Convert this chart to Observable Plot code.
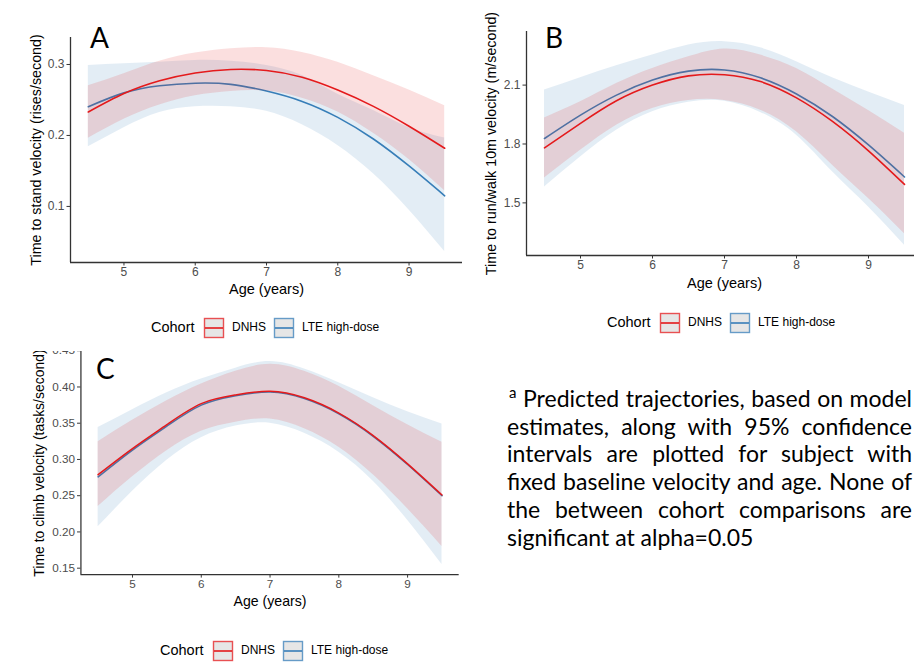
<!DOCTYPE html>
<html><head><meta charset="utf-8">
<script src="https://cdn.jsdelivr.net/npm/d3@7"></script>
<script src="https://cdn.jsdelivr.net/npm/@observablehq/plot@0.6"></script>
<style>
html,body{margin:0;padding:0;background:#fff;}
#page{position:relative;width:914px;height:663px;overflow:hidden;background:#fff;font-family:"Liberation Sans",Arial,sans-serif;}
.abs{position:absolute;}
.plabel{position:absolute;font-family:Lato,"Open Sans",sans-serif;font-size:28px;color:#000;line-height:1;}
.legtxt{position:absolute;font-family:"Liberation Sans",Arial,sans-serif;color:#000;white-space:nowrap;line-height:1;}
#note{position:absolute;left:507px;top:385px;width:405px;font-family:Lato,"Open Sans",sans-serif;font-size:23px;line-height:27.7px;color:#000;}
#note div{text-align:justify;text-align-last:justify;white-space:normal;}
#note div.last{text-align:left;text-align-last:left;}
#note sup{font-size:15px;line-height:0;vertical-align:0;position:relative;top:-9px;}
</style></head><body><div id="page"></div>
<script>
// ---- data ----
const ages = [4.5, 5, 5.5, 6, 6.5, 7, 7.5, 8, 8.5, 9, 9.5];
const cohorts = ["DNHS", "LTE high-dose"];
const xTicks = [5, 6, 7, 8, 9];

// Panel A: Time to stand velocity (rises/second)
const aDnhsFit = [0.233, 0.259, 0.277, 0.288, 0.293, 0.2915, 0.282, 0.264, 0.241, 0.213, 0.182];
const aDnhsLo  = [0.196, 0.223, 0.243, 0.256, 0.262, 0.2625, 0.2525, 0.233, 0.203, 0.166, 0.122];
const aDnhsHi  = [0.270, 0.287, 0.3045, 0.316, 0.322, 0.3236, 0.317, 0.303, 0.284, 0.264, 0.242];
const aLteFit  = [0.2405, 0.260, 0.270, 0.2736, 0.272, 0.2625, 0.248, 0.2255, 0.195, 0.157, 0.115];
const aLteLo   = [0.184, 0.211, 0.2325, 0.2406, 0.2406, 0.234, 0.215, 0.186, 0.146, 0.095, 0.0365];
const aLteHi   = [0.2986, 0.301, 0.3033, 0.3057, 0.3047, 0.2986, 0.2844, 0.258, 0.235, 0.211, 0.1965];
const aTicks = [0.1, 0.2, 0.3];

// Panel B: Time to run/walk 10m velocity (m/second)
const bDnhsFit = [1.78, 1.905, 2.02, 2.10, 2.147, 2.153, 2.118, 2.035, 1.915, 1.765, 1.594];
const bDnhsLo  = [1.627, 1.768, 1.896, 1.981, 2.022, 2.022, 1.9725, 1.862, 1.692, 1.522, 1.343];
const bDnhsHi  = [1.933, 2.015, 2.108, 2.185, 2.244, 2.284, 2.253, 2.185, 2.08, 1.97, 1.855];
const bLteFit  = [1.828, 1.947, 2.049, 2.1255, 2.171, 2.177, 2.137, 2.055, 1.94, 1.795, 1.632];
const bLteLo   = [1.581, 1.734, 1.870, 1.964, 2.012, 2.018, 1.961, 1.845, 1.658, 1.479, 1.284];
const bLteHi   = [2.0745, 2.137, 2.198, 2.253, 2.304, 2.321, 2.29, 2.219, 2.137, 2.065, 1.996];
const bTicks = [1.5, 1.8, 2.1];

// Panel C: Time to climb velocity (tasks/second)
const cDnhsFit = [0.279, 0.315, 0.348, 0.377, 0.389, 0.394, 0.385, 0.364, 0.333, 0.294, 0.251];
const cDnhsLo  = [0.235, 0.276, 0.312, 0.339, 0.3515, 0.3559, 0.3424, 0.317, 0.279, 0.232, 0.180];
const cDnhsHi  = [0.3245, 0.354, 0.381, 0.404, 0.4216, 0.4314, 0.4216, 0.401, 0.374, 0.348, 0.3236];
const cLteFit  = [0.276, 0.313, 0.346, 0.375, 0.388, 0.393, 0.384, 0.363, 0.332, 0.293, 0.250];
const cLteLo   = [0.207, 0.256, 0.299, 0.330, 0.346, 0.350, 0.336, 0.310, 0.270, 0.216, 0.155];
const cLteHi   = [0.344, 0.3685, 0.392, 0.411, 0.426, 0.435, 0.4247, 0.406, 0.385, 0.366, 0.349];
const cTicks = [0.15, 0.20, 0.25, 0.30, 0.35, 0.40, 0.45];

const noteLines = [
  "Predicted trajectories, based on model",
  "estimates, along with 95% confidence",
  "intervals are plotted for subject with",
  "fixed baseline velocity and age. None of",
  "the between cohort comparisons are",
  "significant at alpha=0.05"
];

// ---- styling ----
const RED = "#E41A1C", BLUE = "#377EB8";
const page = document.getElementById("page");

function rows(name, fit, lo, hi) {
  return ages.map((a, i) => ({age: a, fit: fit[i], lo: lo[i], hi: hi[i], cohort: name}));
}

function panel(o) {
  const dn = rows(cohorts[0], o.dFit, o.dLo, o.dHi);
  const lt = rows(cohorts[1], o.lFit, o.lLo, o.lHi);
  const svg = Plot.plot({
    width: o.width, height: o.height,
    marginLeft: o.mL, marginRight: o.mR, marginTop: o.mT, marginBottom: o.mB,
    style: {fontFamily: "'Liberation Sans', Arial, sans-serif", background: "transparent", overflow: "visible", color: "#333"},
    x: {domain: [4.25, 9.75]},
    y: {domain: o.yDomain},
    marks: [
      Plot.areaY(lt, {x: "age", y1: "lo", y2: "hi", fill: BLUE, fillOpacity: 0.14, curve: "natural"}),
      Plot.lineY(lt, {x: "age", y: "fit", stroke: BLUE, strokeWidth: 1.6, curve: "natural"}),
      Plot.areaY(dn, {x: "age", y1: "lo", y2: "hi", fill: RED, fillOpacity: 0.14, curve: "natural"}),
      Plot.lineY(dn, {x: "age", y: "fit", stroke: RED, strokeWidth: 1.6, curve: "natural"}),
      Plot.ruleX([4.25], {stroke: "#333", strokeWidth: 1.3}),
      Plot.ruleY([o.yDomain[0]], {stroke: "#333", strokeWidth: 1.3}),
      Plot.axisX({ticks: xTicks, tickFormat: d3.format("d"), tickSize: 3.5, tickPadding: 1.5, fontSize: 12, label: null}),
      Plot.axisY({ticks: o.yTicks, tickFormat: d3.format(o.fmt), tickSize: 3.5, tickPadding: 2.5, fontSize: 12, label: null}),
      Plot.text([o.yTitle], {frameAnchor: "left", dx: o.titleDx, rotate: -90, textAnchor: "middle", lineAnchor: "middle", fontSize: 14.3, fill: "#000"}),
      Plot.text(["Age (years)"], {frameAnchor: "bottom", dy: o.xTitleDy, textAnchor: "middle", lineAnchor: "middle", fontSize: 14.5, fill: "#000"})
    ]
  });
  d3.select(svg).selectAll('g[aria-label$="tick label"]').attr("fill", "#4D4D4D");
  svg.style.position = "absolute";
  svg.style.left = o.left + "px";
  svg.style.top = o.top + "px";
  return svg;
}

function legend(x0, yc) {
  const items = [
    {t: "Cohort", x: x0, size: 14.5},
    {key: RED, x: x0 + 53},
    {t: cohorts[0], x: x0 + 81, size: 12},
    {key: BLUE, x: x0 + 123},
    {t: cohorts[1], x: x0 + 151, size: 12}
  ];
  for (const it of items) {
    if (it.t) {
      const d = document.createElement("div");
      d.className = "legtxt";
      d.textContent = it.t;
      d.style.left = it.x + "px";
      d.style.fontSize = it.size + "px";
      d.style.top = (yc - it.size * 0.55) + "px";
      page.appendChild(d);
    } else {
      const s = d3.create("svg").attr("width", 22).attr("height", 22)
        .style("position", "absolute").style("left", (it.x - 1) + "px").style("top", (yc - 11) + "px");
      s.append("rect").attr("x", 1.5).attr("y", 1.5).attr("width", 19).attr("height", 19)
        .attr("fill", "#E6E6E6").attr("stroke", it.key).attr("stroke-opacity", 0.75).attr("stroke-width", 1.4);
      s.append("line").attr("x1", 2).attr("x2", 20).attr("y1", 11).attr("y2", 11)
        .attr("stroke", it.key).attr("stroke-width", 1.6);
      page.appendChild(s.node());
    }
  }
}

function label(t, x, y) {
  const d = document.createElement("div");
  d.className = "plabel";
  d.textContent = t;
  d.style.left = x + "px";
  d.style.top = y + "px";
  page.appendChild(d);
}

// Panel A
page.appendChild(panel({
  dFit: aDnhsFit, dLo: aDnhsLo, dHi: aDnhsHi, lFit: aLteFit, lLo: aLteLo, lHi: aLteHi,
  yDomain: [0.021, 0.338], yTicks: aTicks, fmt: ".1f",
  yTitle: "Time to stand velocity (rises/second)", titleDx: -34, xTitleDy: 27,
  left: 0, top: 0, width: 470, height: 300, mL: 70, mR: 8, mT: 37, mB: 38
}));
label("A", 90, 23);
legend(151, 328);

// Panel B
page.appendChild(panel({
  dFit: bDnhsFit, dLo: bDnhsLo, dHi: bDnhsHi, lFit: bLteFit, lLo: bLteLo, lHi: bLteHi,
  yDomain: [1.232, 2.373], yTicks: bTicks, fmt: ".1f",
  yTitle: "Time to run/walk 10m velocity (m/second)", titleDx: -35, xTitleDy: 28,
  left: 460, top: 0, width: 470, height: 300, mL: 66, mR: 8, mT: 31, mB: 45
}));
label("B", 545, 23);
legend(607, 323);

// Panel C (top of the panel is cropped in the source figure)
const clipC = document.createElement("div");
clipC.className = "abs";
Object.assign(clipC.style, {left: "0px", top: "351px", width: "466px", height: "312px", overflow: "hidden"});
clipC.appendChild(panel({
  dFit: cDnhsFit, dLo: cDnhsLo, dHi: cDnhsHi, lFit: cLteFit, lLo: cLteLo, lHi: cLteHi,
  yDomain: [0.141, 0.449], yTicks: cTicks, fmt: ".2f",
  yTitle: "Time to climb velocity (tasks/second)", titleDx: -42, xTitleDy: 27.5,
  left: 0, top: -40, width: 478, height: 310, mL: 82.5, mR: 7.5, mT: 41, mB: 40
}));
page.appendChild(clipC);
label("C", 96, 354);
legend(160, 651);

// Footnote
const note = document.createElement("div");
note.id = "note";
noteLines.forEach((t, i) => {
  const d = document.createElement("div");
  if (i === 0) {
    d.style.paddingLeft = "2px";
    const s = document.createElement("sup");
    s.textContent = "a";
    d.appendChild(s);
    d.appendChild(document.createTextNode(" " + t));
  } else {
    d.textContent = t;
  }
  if (i === noteLines.length - 1) d.className = "last";
  note.appendChild(d);
});
page.appendChild(note);
</script></body></html>
